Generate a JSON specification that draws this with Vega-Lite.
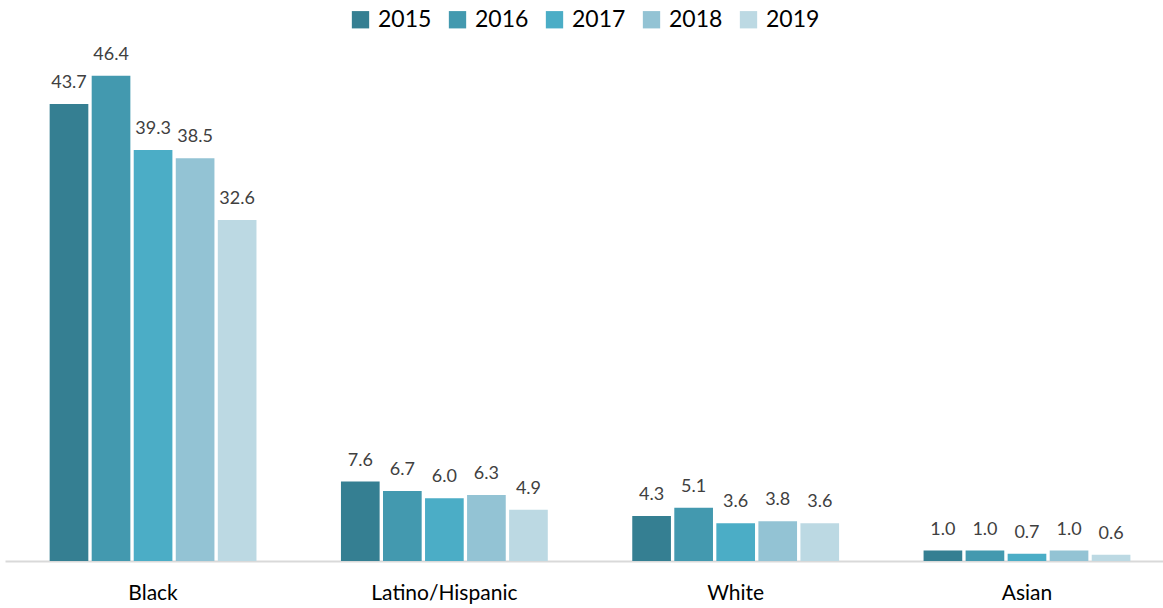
{
  "$schema": "https://vega.github.io/schema/vega-lite/v6.json",
  "width": 1163,
  "height": 608,
  "autosize": {"type": "fit", "contains": "padding"},
  "padding": {"left": 5, "right": 0, "top": 8, "bottom": 5},
  "config": {"view": {"stroke": null}, "font": "Lato", "legend": {"layout": {"top": {"anchor": "middle"}}}},
  "data": {
    "values": [
      {"group": "Black", "year": "2015", "value": 43.7},
      {"group": "Black", "year": "2016", "value": 46.4},
      {"group": "Black", "year": "2017", "value": 39.3},
      {"group": "Black", "year": "2018", "value": 38.5},
      {"group": "Black", "year": "2019", "value": 32.6},
      {"group": "Latino/Hispanic", "year": "2015", "value": 7.6},
      {"group": "Latino/Hispanic", "year": "2016", "value": 6.7},
      {"group": "Latino/Hispanic", "year": "2017", "value": 6.0},
      {"group": "Latino/Hispanic", "year": "2018", "value": 6.3},
      {"group": "Latino/Hispanic", "year": "2019", "value": 4.9},
      {"group": "White", "year": "2015", "value": 4.3},
      {"group": "White", "year": "2016", "value": 5.1},
      {"group": "White", "year": "2017", "value": 3.6},
      {"group": "White", "year": "2018", "value": 3.8},
      {"group": "White", "year": "2019", "value": 3.6},
      {"group": "Asian", "year": "2015", "value": 1.0},
      {"group": "Asian", "year": "2016", "value": 1.0},
      {"group": "Asian", "year": "2017", "value": 0.7},
      {"group": "Asian", "year": "2018", "value": 1.0},
      {"group": "Asian", "year": "2019", "value": 0.6}
    ]
  },
  "encoding": {
    "x": {
      "field": "group", "type": "nominal", "sort": null, "title": null,
      "scale": {"paddingInner": 0.29, "paddingOuter": 0.1326, "align": 0.578},
      "axis": {"labelAngle": 0, "ticks": false, "domainColor": "#d9d9d9", "domainWidth": 2, "labelFontSize": 21, "labelColor": "#000000", "labelPadding": 21}
    },
    "xOffset": {"field": "year", "type": "nominal", "sort": null, "scale": {"paddingInner": 0.08}},
    "y": {"field": "value", "type": "quantitative", "scale": {"domain": [0, 50.2]}, "axis": null}
  },
  "layer": [
    {
      "mark": {"type": "bar"},
      "encoding": {
        "color": {
          "field": "year", "type": "nominal", "sort": null,
          "scale": {"domain": ["2015", "2016", "2017", "2018", "2019"], "range": ["#357F92", "#4399AF", "#4BADC6", "#93C3D4", "#BCD9E3"]},
          "legend": {"title": null, "orient": "top", "direction": "horizontal", "symbolType": "square", "symbolSize": 300, "symbolStrokeWidth": 0, "labelFontSize": 23, "labelColor": "#000000", "columnPadding": 14, "labelOffset": 6, "offset": 4}
        }
      }
    },
    {
      "mark": {"type": "text", "baseline": "bottom", "dy": -12, "fontSize": 18, "color": "#404040"},
      "encoding": {"text": {"field": "value", "type": "quantitative", "format": ".1f"}}
    }
  ]
}
